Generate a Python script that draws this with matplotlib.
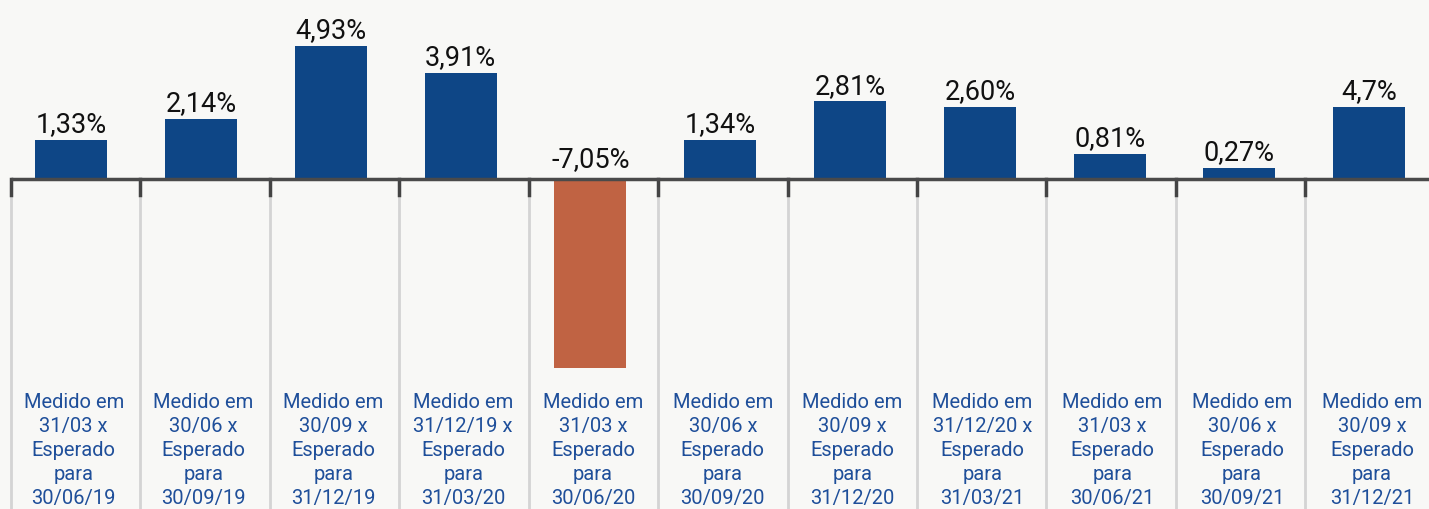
import matplotlib.pyplot as plt

plt.rcParams['font.family'] = ['Roboto', 'DejaVu Sans']

# Data
categories = [
    "Medido em\n31/03 x\nEsperado\npara\n30/06/19",
    "Medido em\n30/06 x\nEsperado\npara\n30/09/19",
    "Medido em\n30/09 x\nEsperado\npara\n31/12/19",
    "Medido em\n31/12/19 x\nEsperado\npara\n31/03/20",
    "Medido em\n31/03 x\nEsperado\npara\n30/06/20",
    "Medido em\n30/06 x\nEsperado\npara\n30/09/20",
    "Medido em\n30/09 x\nEsperado\npara\n31/12/20",
    "Medido em\n31/12/20 x\nEsperado\npara\n31/03/21",
    "Medido em\n31/03 x\nEsperado\npara\n30/06/21",
    "Medido em\n30/06 x\nEsperado\npara\n30/09/21",
    "Medido em\n30/09 x\nEsperado\npara\n31/12/21",
]
# bar heights as drawn (the last bar is drawn at ~2.6 although labelled 4,7%)
values = [1.33, 2.14, 4.93, 3.91, -7.05, 1.34, 2.81, 2.60, 0.81, 0.27, 2.60]
value_labels = ["1,33%", "2,14%", "4,93%", "3,91%", "-7,05%", "1,34%",
                "2,81%", "2,60%", "0,81%", "0,27%", "4,7%"]

BLUE = '#0e4686'
ORANGE = '#c06343'
TEXT_BLUE = '#1f4f9a'
BG = '#f8f8f6'
PAD = 0.149  # bars in the source run a few px past their value

fig = plt.figure(figsize=(14.29, 5.09), dpi=100, facecolor=BG)
ax = fig.add_axes([0, 0, 1, 1])
ax.set_facecolor(BG)

ax.set_xlim(-0.548, 10.46)
ax.set_ylim(-12.595, 6.832)

x = list(range(len(values)))
for i, v in enumerate(values):
    if v >= 0:
        ax.bar(i, v + PAD, width=0.555, color=BLUE, zorder=3)
    else:
        ax.bar(i, v - PAD, width=0.555, color=ORANGE, zorder=3)

# grid lines / category separators
for i in x:
    xb = i - 0.463 - 0.003 * i
    ax.plot([xb, xb], [0, -13], color='#d4d4d4', lw=2, zorder=1)
    ax.plot([xb, xb], [0, -0.6], color='#444444', lw=2.5, zorder=2)
ax.plot([-0.463, 10.6], [0, 0], color='#4a4a4a', lw=2.5, zorder=4,
        solid_capstyle='butt')

# value labels
for i, (v, lab) in enumerate(zip(values, value_labels)):
    ax.annotate(lab, (i, max(v, 0) + PAD), xytext=(0, 1.3),
                textcoords='offset points', ha='center', va='bottom',
                fontsize=19.5, color='#111111')

# category labels
for i, c in enumerate(categories):
    ax.text(i + 0.02, -8.15, c, ha='center', va='top', fontsize=14.5,
            color=TEXT_BLUE, linespacing=1.34)

ax.axis('off')
fig.savefig('out.png', dpi=100, facecolor=BG)
